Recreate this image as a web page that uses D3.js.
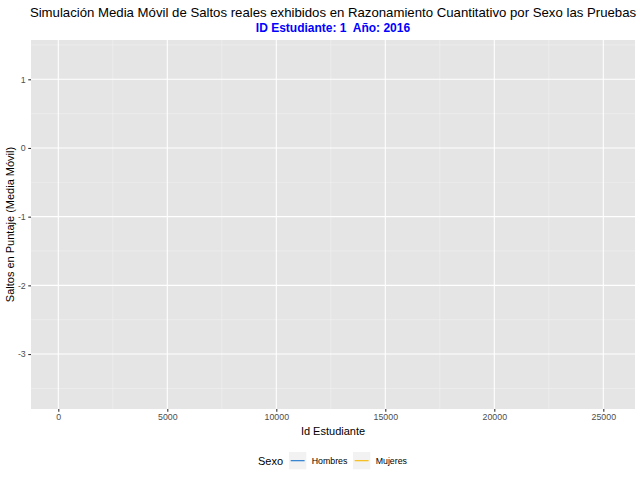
<!DOCTYPE html>
<html>
<head>
<meta charset="utf-8">
<script src="https://cdn.jsdelivr.net/npm/d3@7"></script>
<style>
  html, body { margin: 0; padding: 0; background: #fff; }
  svg { display: block; font-family: "Liberation Sans", Arial, Helvetica, sans-serif; }
  text { white-space: pre; }
</style>
</head>
<body>
<svg id="chart" width="640" height="480"></svg>
<script>
// ---- data (the reference plot shows no drawn series) ----
const categories = ["Hombres", "Mujeres"];
const seriesColors = ["#1874CD", "#F5B800"];
const idHombres = [];
const valHombres = [];
const idMujeres = [];
const valMujeres = [];
const xTicks = [0, 5000, 10000, 15000, 20000, 25000];
const xMinor = [2500, 7500, 12500, 17500, 22500];
const yTicks = [-3, -2, -1, 0, 1];
const yMinor = [-3.5, -2.5, -1.5, -0.5, 0.5, 1.5];
const xDomain = [-1252, 26454];
const yDomain = [-3.80, 1.572];
const titleText = "Simulación Media Móvil de Saltos reales exhibidos en Razonamiento Cuantitativo por Sexo las Pruebas";
const subtitleText = "ID Estudiante: 1  Año: 2016";
const xLabel = "Id Estudiante";
const yLabel = "Saltos en Puntaje (Media Móvil)";
const legendTitle = "Sexo";

// ---- layout ----
const svg = d3.select("#chart");
const P = { left: 31, right: 635, top: 40, bottom: 409 };

const x = d3.scaleLinear().domain(xDomain).range([P.left, P.right]);
const y = d3.scaleLinear().domain(yDomain).range([P.bottom, P.top]);

// panel
svg.append("rect")
  .attr("x", P.left).attr("y", P.top)
  .attr("width", P.right - P.left).attr("height", P.bottom - P.top)
  .attr("fill", "#E5E5E5");

const grid = svg.append("g");
// minor grid
grid.selectAll(".xm").data(xMinor).enter().append("line")
  .attr("x1", d => x(d)).attr("x2", d => x(d))
  .attr("y1", P.top).attr("y2", P.bottom)
  .attr("stroke", "#F2F2F2").attr("stroke-width", 0.55);
grid.selectAll(".ym").data(yMinor).enter().append("line")
  .attr("y1", d => y(d)).attr("y2", d => y(d))
  .attr("x1", P.left).attr("x2", P.right)
  .attr("stroke", "#F2F2F2").attr("stroke-width", 0.55);
// major grid
grid.selectAll(".xM").data(xTicks).enter().append("line")
  .attr("x1", d => x(d)).attr("x2", d => x(d))
  .attr("y1", P.top).attr("y2", P.bottom)
  .attr("stroke", "#FFFFFF").attr("stroke-width", 1.1);
grid.selectAll(".yM").data(yTicks).enter().append("line")
  .attr("y1", d => y(d)).attr("y2", d => y(d))
  .attr("x1", P.left).attr("x2", P.right)
  .attr("stroke", "#FFFFFF").attr("stroke-width", 1.1);

// series lines (empty in reference)
const line = d3.line().x(d => x(d[0])).y(d => y(d[1]));
const seriesData = [
  d3.zip(idHombres, valHombres),
  d3.zip(idMujeres, valMujeres)
];
seriesData.forEach((s, i) => {
  if (s.length) {
    svg.append("path").datum(s).attr("d", line)
      .attr("fill", "none").attr("stroke", seriesColors[i]).attr("stroke-width", 0.8);
  }
});

// axes
const xAxis = d3.axisBottom(x).tickValues(xTicks).tickSize(2.75).tickPadding(2.5).tickFormat(d3.format("d"));
const gx = svg.append("g").attr("transform", `translate(0,${P.bottom})`).call(xAxis);
const yAxis = d3.axisLeft(y).tickValues(yTicks).tickSize(2.75).tickPadding(2.5).tickFormat(d3.format("d"));
const gy = svg.append("g").attr("transform", `translate(${P.left},0)`).call(yAxis);
[gx, gy].forEach(g => {
  g.select(".domain").remove();
  g.selectAll(".tick line").attr("stroke", "#333333").attr("stroke-width", 1.1);
  g.selectAll(".tick text").attr("fill", "#4D4D4D").attr("font-size", "8.8px")
    .attr("font-family", "Liberation Sans, Arial, sans-serif");
});
gy.selectAll(".tick text").text(d => d < 0 ? "-" + Math.abs(d) : d);

// titles
const cx = (P.left + P.right) / 2;
svg.append("text").attr("x", cx).attr("y", 17).attr("text-anchor", "middle")
  .attr("font-size", "13.2px").attr("fill", "#000").text(titleText);
svg.append("text").attr("x", cx).attr("y", 32).attr("text-anchor", "middle")
  .attr("xml:space", "preserve")
  .attr("font-size", "12px").attr("font-weight", "bold").attr("fill", "#0000FF").text(subtitleText);

svg.append("text").attr("x", cx).attr("y", 435).attr("text-anchor", "middle")
  .attr("font-size", "11px").attr("fill", "#000").text(xLabel);
svg.append("text")
  .attr("transform", `translate(14,${(P.top + P.bottom) / 2}) rotate(-90)`)
  .attr("text-anchor", "middle").attr("font-size", "11px").attr("fill", "#000").text(yLabel);

// legend
const lg = svg.append("g");
lg.append("text").attr("x", 258).attr("y", 465).attr("font-size", "11px").attr("fill", "#000").text(legendTitle);
const keyX = [289, 353];
categories.forEach((c, i) => {
  const kx = keyX[i];
  lg.append("rect").attr("x", kx).attr("y", 452).attr("width", 17.3).attr("height", 17.3).attr("fill", "#F2F2F2");
  lg.append("line").attr("x1", kx + 1.7).attr("x2", kx + 15.6).attr("y1", 460.7).attr("y2", 460.7)
    .attr("stroke", seriesColors[i]).attr("stroke-width", 1.1);
  lg.append("text").attr("x", kx + 22.7).attr("y", 463.8).attr("font-size", "8.8px").attr("fill", "#000").text(c);
});
</script>
</body>
</html>
